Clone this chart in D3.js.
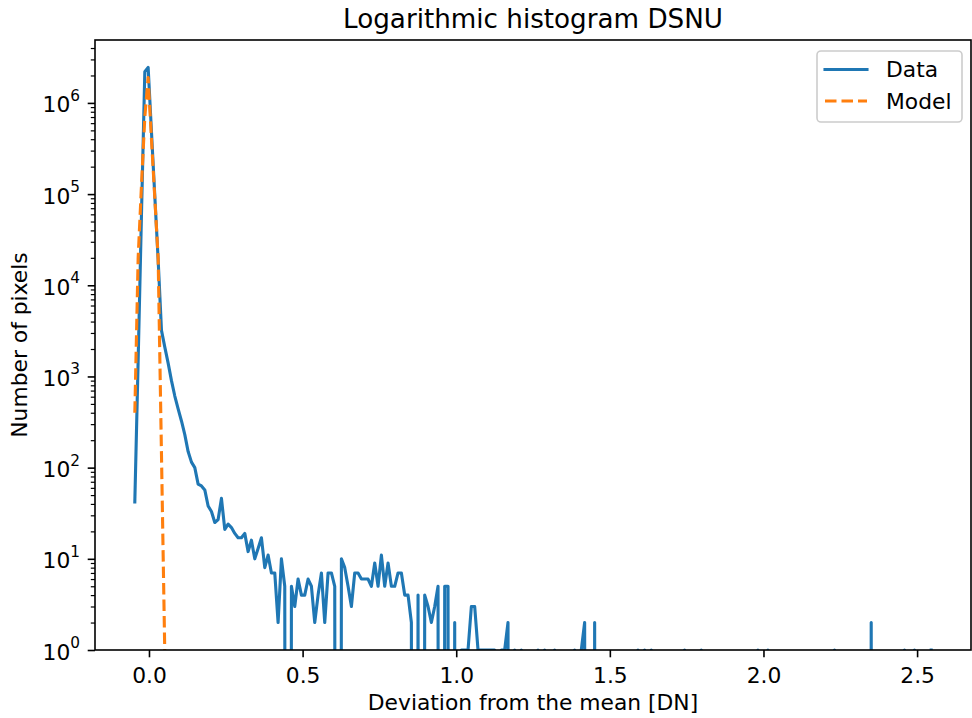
<!DOCTYPE html>
<html><head><meta charset="utf-8">
<script src="https://cdn.jsdelivr.net/npm/d3@7"></script>
<style>
body{margin:0;background:#fff}
svg{display:block}
text{font-family:"DejaVu Sans",sans-serif;fill:#000}
</style>
</head><body>
<svg id="c" width="972" height="718"></svg>
<script>
// ---- data ----
const binStart = -0.0461;     // centre of first histogram bin [DN]
const binWidth = 0.010845;    // bin width [DN]
const dataCounts = [
  42, 1500, 60000, 2200000, 2450000, 480000, 95000, 19000, 3200, 2100,
  1400, 900, 610, 440, 325, 230, 150, 115, 100, 66,
  63, 57, 38, 33, 25, 27, 46, 21, 24, 22,
  19, 17, 17, 19, 12, 16, 10, 13, 17, 8,
  11, 7, 7, 2, 10, 5, 0, 5, 3, 6,
  4, 4, 6, 5, 2, 4, 7, 2, 7, 7,
  5, 0, 10, 8, 5, 3, 7, 7, 6, 6,
  6, 5, 9, 5, 11, 5, 9, 5, 5, 7,
  7, 4, 4, 2, 0, 4, 0, 4, 3, 2,
  3, 5, 0, 5, 5, 0, 2, 0, 1, 1,
  1, 3, 3, 1, 1, 1, 1, 1, 1, 0,
  1, 1, 2, 0, 1, 0, 1, 0, 0, 0,
  0, 1, 0, 1, 0, 0, 1, 0, 0, 0,
  0, 0, 1, 0, 1, 2, 0, 0, 2, 0,
  0, 0, 0, 0, 0, 0, 0, 0, 0, 0,
  0, 1, 0, 1, 0, 1, 0, 0, 0, 0,
  0, 0, 0, 0, 0, 1, 0, 0, 0, 0,
  1, 0, 0, 0, 0, 0, 0, 0, 0, 0,
  0, 0, 0, 0, 0, 0, 0, 1, 0, 0,
  1, 0, 0, 0, 0, 0, 0, 0, 0, 0,
  0, 0, 0, 0, 0, 0, 0, 0, 0, 0,
  1, 0, 0, 0, 0, 0, 0, 0, 0, 0,
  0, 2, 0, 0, 0, 0, 0, 0, 0, 0,
  0, 1, 0, 0, 1, 0, 0, 0, 0, 1
];
const modelCounts = [400, 20000, 125000, 700000, 1900000, 400000, 90000, 20000, 140, 0.9, 0.0001];
const xTicks = [0, 0.5, 1.0, 1.5, 2.0, 2.5];
const yDecades = [0, 1, 2, 3, 4, 5, 6];
const legendLabels = ["Data", "Model"];
const titleText = "Logarithmic histogram DSNU";
const xLabelText = "Deviation from the mean [DN]";
const yLabelText = "Number of pixels";

// ---- layout ----
const L = 95, R = 971, T = 40, B = 650;
const FS = 21.8, FT = 26.2;
const blue = "#1f77b4", orange = "#ff7f0e";
const svg = d3.select("#c");

const binX = i => binStart + i * binWidth;
const data = dataCounts.map((v, i) => ({x: binX(i), v}));
const model = modelCounts.map((v, i) => ({x: binX(i), v}));

const xmin = binStart, xmax = binX(dataCounts.length - 1);
const xm = 0.05 * (xmax - xmin);
const x = d3.scaleLinear().domain([xmin - xm, xmax + xm]).range([L, R]);
const y = d3.scaleLog().domain([1, Math.pow(10, 6.69)]).range([B, T]);

svg.append("defs").append("clipPath").attr("id", "clip")
  .append("rect").attr("x", L).attr("y", T).attr("width", R - L).attr("height", B - T);

const line = d3.line().x(d => x(d.x)).y(d => y(Math.max(d.v, 1e-30)));
const plot = svg.append("g").attr("clip-path", "url(#clip)");
plot.append("path").datum(data).attr("d", line)
  .attr("fill", "none").attr("stroke", blue).attr("stroke-width", 3.1)
  .attr("stroke-linejoin", "round").attr("stroke-linecap", "square");
plot.append("path").datum(model).attr("d", line)
  .attr("fill", "none").attr("stroke", orange).attr("stroke-width", 3.1)
  .attr("stroke-dasharray", "11.5,5").attr("stroke-linejoin", "round");

// ---- axes ----
const xAxis = d3.axisBottom(x).tickValues(xTicks).tickFormat(d3.format(".1f"))
  .tickSize(7.3).tickSizeOuter(0);
const gx = svg.append("g").attr("transform", `translate(0,${B})`).call(xAxis);
gx.select(".domain").remove();
gx.selectAll(".tick line").attr("stroke", "#000").attr("stroke-width", 1.6);
gx.selectAll(".tick text").attr("y", 32.5).attr("dy", 0).attr("font-size", FS)
  .attr("font-family", "DejaVu Sans").attr("fill", "#000");

const yTop = y.domain()[1];
const minor = [];
yDecades.forEach(e => { for (let s = 2; s <= 9; s++) { const v = s * Math.pow(10, e); if (v <= yTop) minor.push(v); } });
const gym = svg.append("g").attr("transform", `translate(${L},0)`)
  .call(d3.axisLeft(y).tickValues(minor).tickFormat("").tickSize(4.2).tickSizeOuter(0));
gym.select(".domain").remove();
gym.selectAll(".tick line").attr("stroke", "#000").attr("stroke-width", 1.2);

const yMaj = yDecades.map(e => Math.pow(10, e));
const gy = svg.append("g").attr("transform", `translate(${L},0)`)
  .call(d3.axisLeft(y).tickValues(yMaj).tickFormat("").tickSize(7.3).tickSizeOuter(0));
gy.select(".domain").remove();
gy.selectAll(".tick line").attr("stroke", "#000").attr("stroke-width", 1.6);
gy.selectAll(".tick").each(function(d, i) {
  const t = d3.select(this).append("text").attr("x", -15).attr("y", 9)
    .attr("text-anchor", "end").attr("font-size", FS);
  t.append("tspan").text("10");
  t.append("tspan").attr("dy", -11.5).attr("font-size", 15.3).text(String(yDecades[i]));
});

// spines
svg.append("rect").attr("x", L).attr("y", T).attr("width", R - L).attr("height", B - T)
  .attr("fill", "none").attr("stroke", "#000").attr("stroke-width", 1.6);

// ---- texts ----
svg.append("text").attr("x", (L + R) / 2).attr("y", 27.5).attr("text-anchor", "middle")
  .attr("font-size", FT).text(titleText);
svg.append("text").attr("x", (L + R) / 2).attr("y", 709.5).attr("text-anchor", "middle")
  .attr("font-size", FS).text(xLabelText);
svg.append("text").attr("transform", `translate(27,${(T + B) / 2}) rotate(-90)`)
  .attr("text-anchor", "middle").attr("font-size", FS).text(yLabelText);

// ---- legend ----
const lg = svg.append("g");
lg.append("rect").attr("x", 817).attr("y", 51).attr("width", 145).attr("height", 71)
  .attr("rx", 4).attr("fill", "#fff").attr("fill-opacity", 0.8)
  .attr("stroke", "#cccccc").attr("stroke-width", 1.6);
const items = [{c: blue, dash: null, yy: 69.5}, {c: orange, dash: "11.5,5", yy: 101}];
items.forEach((it, i) => {
  lg.append("line").attr("x1", 825).attr("x2", 867).attr("y1", it.yy).attr("y2", it.yy)
    .attr("stroke", it.c).attr("stroke-width", 3.1)
    .attr("stroke-dasharray", it.dash).attr("stroke-linecap", it.dash ? "butt" : "square");
  lg.append("text").attr("x", 886).attr("y", it.yy + 7.8).attr("font-size", FS).text(legendLabels[i]);
});
</script>
</body></html>
